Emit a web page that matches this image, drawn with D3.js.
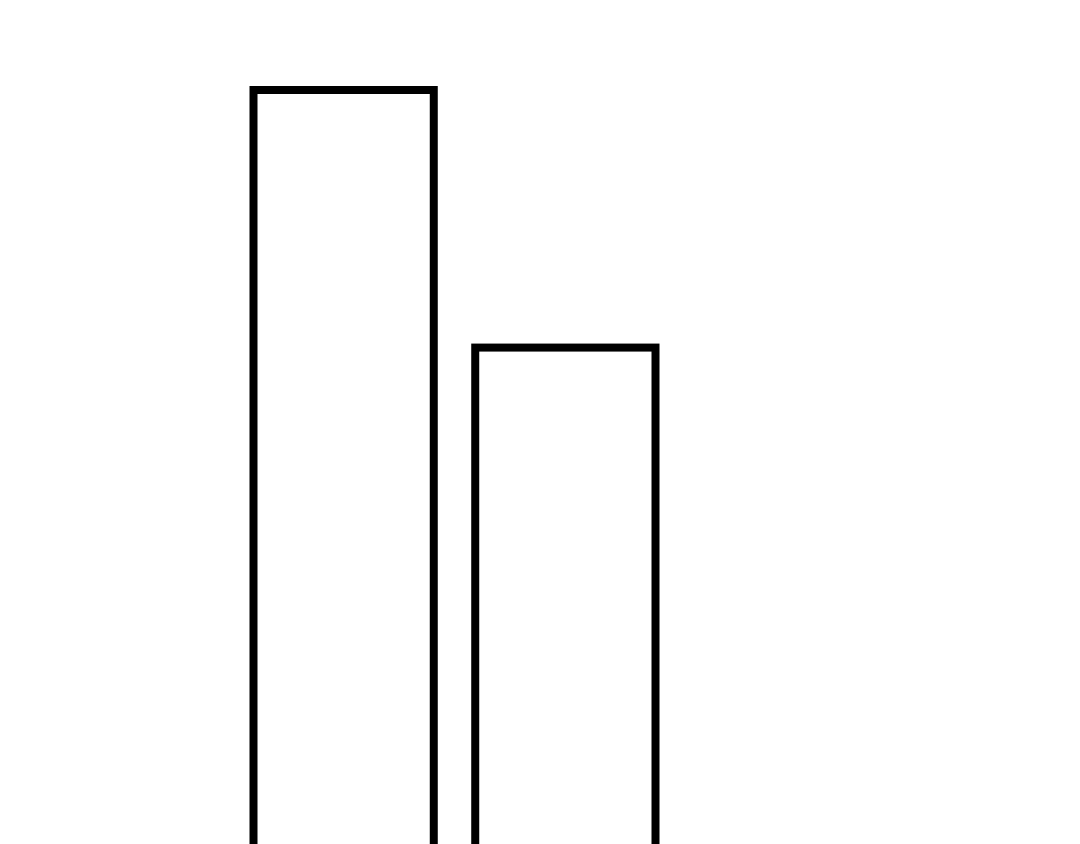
<!DOCTYPE html>
<html>
<head>
<meta charset="utf-8">
<script src="https://cdn.jsdelivr.net/npm/d3@7"></script>
<style>
  html, body { margin: 0; padding: 0; background: #fff; }
  svg { display: block; }
</style>
</head>
<body>
<div id="chart"></div>
<script>
// two bars, baseline sits below the visible area
let categories = ["A", "B"]
let values = [100, 68.2]

let width = 1080, height = 844

let svg = d3.select("#chart")
  .append("svg")
  .attr("width", width)
  .attr("height", height)
  .style("overflow", "hidden")

// Axes. Domain is data, range is pixels
let xAx = d3.scaleBand()
  .domain(categories)
  .range([253.5, 655.5])
  .paddingInner(0.187)
  .paddingOuter(0)
let yAx = d3.scaleLinear()
  .domain([0, 100])
  .range([900, 90])

svg.selectAll("rect.bar")
  .data(values)
  .join("rect")
  .attr("class", "bar")
  .attr("x", (d, i) => xAx(categories[i]))
  .attr("y", d => yAx(d))
  .attr("width", xAx.bandwidth())
  .attr("height", d => yAx(0) - yAx(d))
  .attr("fill", "none")
  .attr("stroke", "#000")
  .attr("stroke-width", 8)
</script>
</body>
</html>
